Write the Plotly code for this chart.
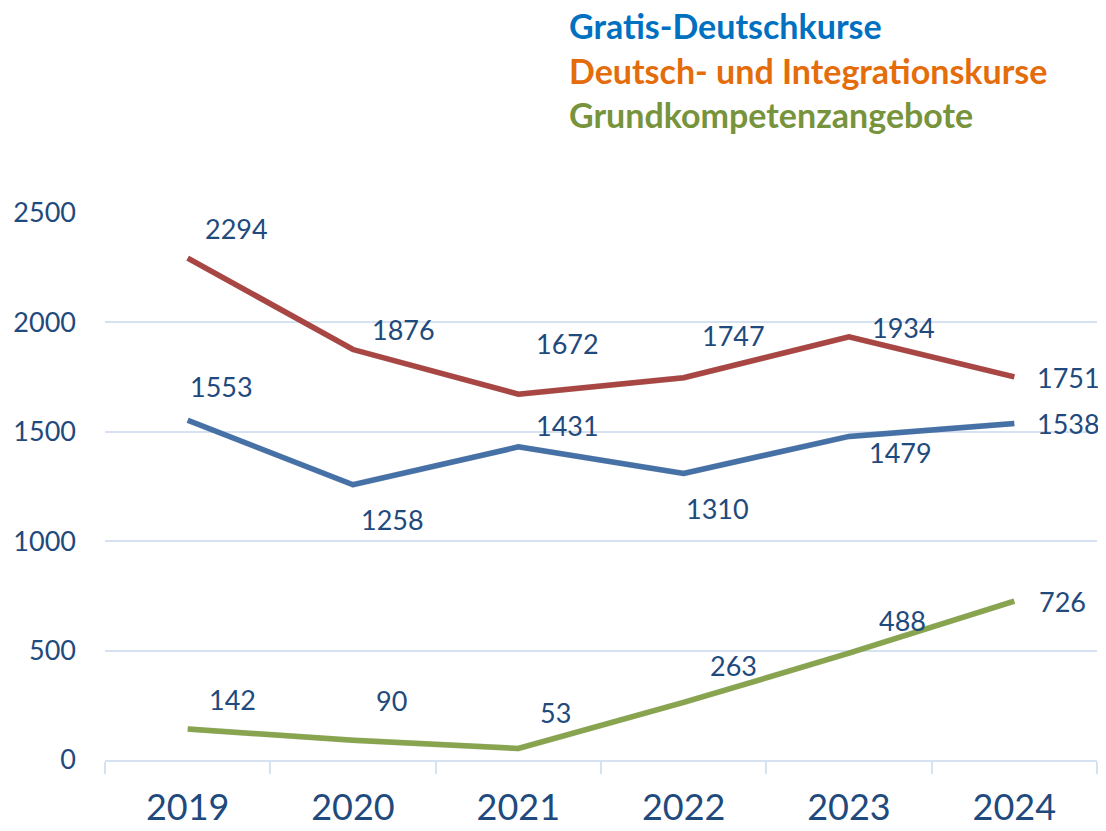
import plotly.graph_objects as go

years = ["2019", "2020", "2021", "2022", "2023", "2024"]
gratis = [1553, 1258, 1431, 1310, 1479, 1538]
integration = [2294, 1876, 1672, 1747, 1934, 1751]
grund = [142, 90, 53, 263, 488, 726]

names = ["Gratis-Deutschkurse", "Deutsch- und Integrationskurse", "Grundkompetenzangebote"]
line_colors = ["#4F81BD", "#C0504D", "#9BBB59"]
legend_colors = ["#0070C0", "#E46C0A", "#77933C"]

# label offsets (px) per point, for each series
off_gratis = [(34, -34), (39, 35), (49, -21), (34, 35), (51, 16), (54, 0)]
off_integ = [(49, -30), (50, -20), (49, -51), (50, -42), (54, -9), (54, 1)]
off_grund = [(45, -29), (38, -40), (37, -36), (50, -37), (53, -33), (48, 0)]

series = [gratis, integration, grund]
offsets = [off_gratis, off_integ, off_grund]

PAGE = 8  # default body margin of the html page
W, H = 1106 - PAGE, 831 - PAGE
SX, SY = 2, 3  # shadow offset px
L, R, T, B = 105 - PAGE, 9 - SX, 213 - PAGE, 71 - SY
pw, ph = W - L - R, H - T - B
text_color = "#1F4A7D"
font = "Lato"

fig = go.Figure()

# shadows
for vals in series:
    fig.add_trace(go.Scatter(x=years, y=vals, mode="lines", xaxis="x2", yaxis="y2",
                             line=dict(color="rgba(0,0,0,0.12)", width=6),
                             hoverinfo="skip", showlegend=False))
for vals, name, c in zip(series, names, line_colors):
    fig.add_trace(go.Scatter(x=years, y=vals, mode="lines", name=name,
                             line=dict(color=c, width=5.5), showlegend=False))

annotations = []
for vals, offs in zip(series, offsets):
    for i, (v, (dx, dy)) in enumerate(zip(vals, offs)):
        annotations.append(dict(x=i, y=v, xref="x", yref="y", text=str(v), showarrow=False,
                                xshift=dx, yshift=-dy,
                                font=dict(family=font, size=27, color=text_color)))

for i, (name, c) in enumerate(zip(names, legend_colors)):
    ytop = 22 - PAGE + 3 + 45 * i
    annotations.append(dict(x=(568 - PAGE - L) / pw, y=(H - ytop - B) / ph,
                            xref="paper", yref="paper", text="<b>%s</b>" % name,
                            showarrow=False, xanchor="left", yanchor="middle", borderpad=0,
                            font=dict(family=font, size=34, color=c)))

grid_c = "#D6E1F1"
dx_s, dy_s = SX / pw, SY / ph
fig.update_layout(
    width=W, height=H,
    margin=dict(l=L, r=R, t=T, b=B, autoexpand=False),
    plot_bgcolor="white", paper_bgcolor="white",
    showlegend=False,
    annotations=annotations,
    xaxis=dict(type="category", range=[-0.5, 5.5], domain=[0, 1 - dx_s], automargin=False,
               showgrid=False, showline=True, linecolor=grid_c, linewidth=2,
               ticks="outside", tickson="boundaries", ticklen=12, tickcolor=grid_c, tickwidth=2,
               tickfont=dict(family=font, size=36, color=text_color), ticklabelstandoff=15),
    yaxis=dict(range=[0, 2500], domain=[dy_s, 1], tickvals=[0, 500, 1000, 1500, 2000, 2500],
               automargin=False,
               showgrid=True, gridcolor=grid_c, gridwidth=2, zeroline=False, showline=False,
               tickfont=dict(family=font, size=27, color=text_color), ticklabelstandoff=28),
    xaxis2=dict(type="category", range=[-0.5, 5.5], domain=[dx_s, 1], overlaying="x",
                visible=False, anchor="y2"),
    yaxis2=dict(range=[0, 2500], domain=[0, 1 - dy_s], overlaying="y", visible=False, anchor="x2"),
)

fig.write_html("out.html")
